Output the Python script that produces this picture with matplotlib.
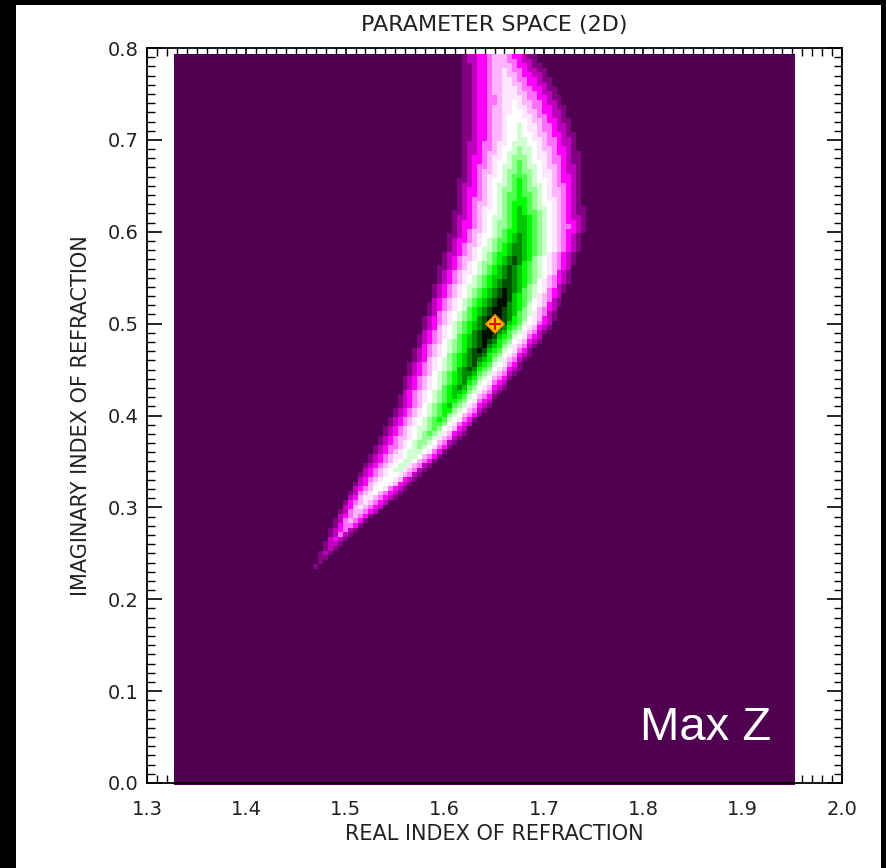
import numpy as np
import matplotlib
matplotlib.use('Agg')
import matplotlib.pyplot as plt
from matplotlib.colors import ListedColormap
from matplotlib.patches import Rectangle
from matplotlib.ticker import MultipleLocator

# the banana-shaped band:
# imaginary index, left edge of colour, peak position, right edge, peak level
ridge_y = [0.234, 0.270, 0.308, 0.362, 0.406, 0.450, 0.500, 0.550, 0.602, 0.656, 0.700, 0.743, 0.791]
left_x = [1.469, 1.482, 1.499, 1.526, 1.549, 1.563, 1.578, 1.592, 1.607, 1.615, 1.618, 1.618, 1.617]
peak_x = [1.469, 1.495, 1.521, 1.575, 1.603, 1.626, 1.650, 1.665, 1.678, 1.674, 1.676, 1.668, 1.654]
right_x = [1.469, 1.508, 1.548, 1.605, 1.643, 1.675, 1.709, 1.727, 1.741, 1.739, 1.733, 1.719, 1.691]
peak_z = [0.10, 0.26, 0.46, 0.60, 0.74, 0.90, 1.05, 0.93, 0.82, 0.70, 0.55, 0.45, 0.36]

best_n = [1.65]
best_k = [0.50]

real_n = np.arange(1.33, 1.9501, 0.005)
imag_k = np.arange(0.0, 0.7901, 0.005)

colors = [(80, 0, 80), (130, 0, 130), (190, 0, 190), (255, 0, 255),
          (255, 110, 255), (255, 180, 255), (255, 230, 255), (255, 255, 255),
          (210, 255, 210), (150, 255, 150), (80, 255, 80), (0, 255, 0),
          (0, 200, 0), (0, 140, 0), (0, 80, 0), (0, 15, 0)]
cmap = ListedColormap([(r / 255, g / 255, b / 255) for r, g, b in colors])
floor = 1.0 / len(colors)

# build the grid from the rows read above
X, Y = np.meshgrid(real_n, imag_k)
lx = np.interp(Y, ridge_y, left_x)
px = np.interp(Y, ridge_y, peak_x)
rx = np.interp(Y, ridge_y, right_x)
pz = np.interp(Y, ridge_y, peak_z)
hw = np.where(X < px, px - lx, rx - px)
frac = 1 - np.abs(X - px) / np.maximum(hw, 1e-6)
Z = np.where(frac > 0, floor + (pz - floor) * frac, 0.0)
Z[Y < ridge_y[0]] = 0.0
Z = np.clip(Z, 0, 1)

fig = plt.figure(figsize=(8.86, 8.68), dpi=100, facecolor='black')
fig.patches.append(Rectangle((16 / 886, 0), 865 / 886, 863 / 868,
                             transform=fig.transFigure, facecolor='white',
                             edgecolor='none', zorder=-10))
ax = fig.add_axes([147 / 886, 85 / 868, 695 / 886, 735 / 868])
ax.set_facecolor('white')

dx = 0.0025
ax.imshow(Z, origin='lower', cmap=cmap, vmin=0, vmax=1, interpolation='nearest',
          aspect='auto', zorder=1, clip_on=False,
          extent=[real_n[0] - dx, real_n[-1] + dx, imag_k[0] - dx, imag_k[-1] + dx])

ax.plot(best_n, best_k, marker='D', markersize=9, color='#ffd400',
        markeredgecolor='#ff8c00', markeredgewidth=1.2, linestyle='none', zorder=3)
ax.plot(best_n, best_k, marker='+', markersize=9, color='red',
        markeredgewidth=1.6, linestyle='none', zorder=4)

ax.text(1.797, 0.047, 'Max Z', color='white', fontsize=34,
        family='Liberation Sans', ha='left', va='baseline', zorder=5)

ax.set_xlim(1.3, 2.0)
ax.set_ylim(0.0, 0.8)
ax.xaxis.set_major_locator(MultipleLocator(0.1))
ax.xaxis.set_minor_locator(MultipleLocator(0.01))
ax.yaxis.set_major_locator(MultipleLocator(0.1))
ax.yaxis.set_minor_locator(MultipleLocator(0.01))
ax.tick_params(which='both', direction='in', top=True, right=True,
               color='black', labelcolor='#222222', labelsize=14)
ax.tick_params(which='major', length=11, width=1.2)
ax.tick_params(which='minor', length=5.5, width=1.0)
ax.tick_params(axis='x', pad=12)
ax.tick_params(axis='y', pad=6)
ax.set_axisbelow(True)
for s in ax.spines.values():
    s.set_linewidth(1.3)

ax.set_title('PARAMETER SPACE (2D)', fontsize=16, color='#222222', pad=12)
ax.set_xlabel('REAL INDEX OF REFRACTION', fontsize=15, color='#222222', labelpad=4)
ax.set_ylabel('IMAGINARY INDEX OF REFRACTION', fontsize=15, color='#222222', labelpad=12)

plt.savefig('out.png', dpi=100, facecolor=fig.get_facecolor())
plt.close()
